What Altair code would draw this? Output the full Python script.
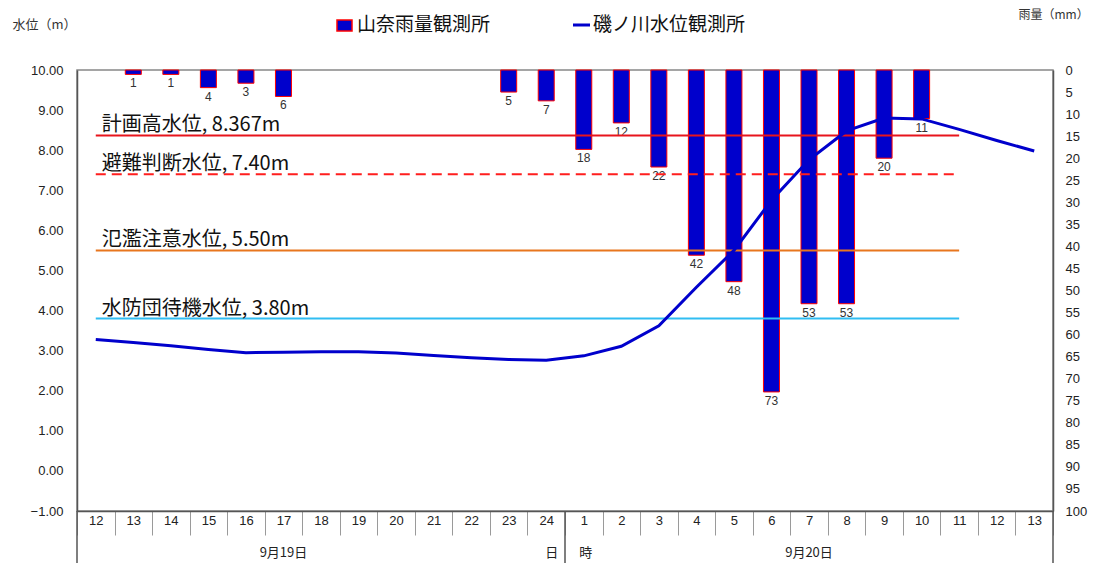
import altair as alt
import pandas as pd

# ---------------- data ----------------
hours = [12, 13, 14, 15, 16, 17, 18, 19, 20, 21, 22, 23, 24,
         1, 2, 3, 4, 5, 6, 7, 8, 9, 10, 11, 12, 13]
rain_mm = [None, 1, 1, 4, 3, 6, None, None, None, None, None, 5, 7,
           18, 12, 22, 42, 48, 73, 53, 53, 20, 11, None, None, None]
level_m = [3.28, 3.20, 3.12, 3.03, 2.95, 2.96, 2.97, 2.97, 2.94, 2.88, 2.82, 2.78, 2.76,
           2.87, 3.11, 3.62, 4.58, 5.50, 6.75, 7.76, 8.48, 8.80, 8.78, 8.52, 8.24, 7.98]

threshold_names = ["計画高水位, 8.367m", "避難判断水位, 7.40m", "氾濫注意水位, 5.50m", "水防団待機水位, 3.80m"]
threshold_values = [8.367, 7.40, 5.50, 3.80]
threshold_colors = ["#E8141C", "#FF1E1E", "#E8761E", "#30BDF2"]
threshold_dashed = [False, True, False, False]

day_labels = ["9月19日", "日", "時", "9月20日"]
day_label_at = [5.5, 12.65, 13.55, 19.5]   # positions along the hour axis
divider_at = [0, 13, 26]                    # day boundaries (hour-axis units)

series_names = ["山奈雨量観測所", "磯ノ川水位観測所"]

# ---------------- styling ----------------
W, H = 976, 441
CJK = "Noto Sans CJK JP"
NUM = "Liberation Sans"
BLUE = "#0000CC"

n = len(hours)
pos = [i + 0.5 for i in range(n)]
df = pd.DataFrame({"pos": pos, "hour": hours, "rain": rain_mm, "level": level_m})
rain_df = df.dropna(subset=["rain"]).copy()

js_hours = "[" + ",".join("'%d'" % h for h in hours) + "]"
xs = alt.Scale(domain=[0, n], nice=False, zero=False, padding=0)
x_axis = alt.Axis(
    values=list(range(n + 1)),
    labelExpr=f"datum.value < {n} ? {js_hours}[datum.value] : ''",
    labelOffset=W / n / 2,
    tickSize=24, tickColor="#9a9a9a", tickWidth=1,
    labelPadding=-21, labelFont=NUM, labelFontSize=13, labelColor="#222",
    labelAngle=0, labelFlush=False, labelOverlap=False,
    domainColor="#555", domainWidth=1.5, grid=False,
)


def X(field):
    return alt.X(f"{field}:Q", scale=xs, axis=x_axis, title=None)


# left (water level) axis
ys_left = alt.Scale(domain=[-1, 10], nice=False, zero=False)
y_axis_left = alt.Axis(
    orient="left", values=list(range(-1, 11)), format=".2f", ticks=False,
    labelPadding=14, labelFont=NUM, labelFontSize=13, labelColor="#222",
    domainColor="#555", domainWidth=1.5, grid=False,
    title="水位（m）", titleAngle=0, titleX=-65, titleY=-46, titleAlign="left",
    titleBaseline="middle", titleFont=CJK, titleFontSize=13, titleFontWeight="normal",
    titleColor="#333",
)
# right (rainfall) axis
ys_right = alt.Scale(domain=[0, 100], reverse=True, nice=False, zero=True)
y_axis_right = alt.Axis(
    orient="right", values=list(range(0, 101, 5)), ticks=False,
    labelPadding=12, labelFont=NUM, labelFontSize=13, labelColor="#222",
    domainColor="#555", domainWidth=1.5, grid=False,
    title="雨量（mm）", titleAngle=0, titleX=-35, titleY=-56, titleAlign="left",
    titleBaseline="middle", titleFont=CJK, titleFontSize=12, titleFontWeight="normal",
    titleColor="#333",
)

# ---------------- rainfall group ----------------
bars = alt.Chart(rain_df).mark_bar(size=16, color=BLUE, stroke="#FF0000", strokeWidth=1).encode(
    x=X("pos"),
    y=alt.Y("rain:Q", scale=ys_right, axis=y_axis_right),
)
bar_text = alt.Chart(rain_df).mark_text(
    baseline="top", dy=4, font=NUM, fontSize=12, color="#333"
).encode(
    x=X("pos"),
    y=alt.Y("rain:Q", scale=ys_right, axis=y_axis_right),
    text=alt.Text("rain:Q", format="d"),
)
rain_group = alt.layer(bars, bar_text)

# ---------------- water level group ----------------
thr_df = pd.DataFrame({
    "name": threshold_names,
    "value": threshold_values,
    "x0": [pos[0]] * len(threshold_values),
    "x1": [pos[23]] * len(threshold_values),
})
rule_layers = []
for i, (val, col, dashed) in enumerate(zip(threshold_values, threshold_colors, threshold_dashed)):
    kw = dict(color=col, strokeWidth=2)
    if dashed:
        kw["strokeDash"] = [10, 6]
    rule_layers.append(
        alt.Chart(thr_df.iloc[[i]]).mark_rule(**kw).encode(
            x=X("x0"), x2="x1",
            y=alt.Y("value:Q", scale=ys_left, axis=y_axis_left),
        )
    )
thr_text = alt.Chart(thr_df).mark_text(
    align="left", baseline="alphabetic", dx=6, dy=-4, font=CJK, fontSize=20, color="#111"
).encode(
    x=X("x0"),
    y=alt.Y("value:Q", scale=ys_left, axis=y_axis_left),
    text="name:N",
)
line = alt.Chart(df).mark_line(color=BLUE, strokeWidth=3).encode(
    x=X("pos"),
    y=alt.Y("level:Q", scale=ys_left, axis=y_axis_left),
)
level_group = alt.layer(*rule_layers, thr_text, line)

# ---------------- bottom annotations ----------------
day_df = pd.DataFrame({"label": day_labels, "at": day_label_at})
day_text = alt.Chart(day_df).mark_text(
    baseline="middle", font=CJK, fontSize=13, color="#222"
).encode(
    x=X("at"), y=alt.value(H + 42), text="label:N",
)
div_df = pd.DataFrame({"at": divider_at})
dividers = alt.Chart(div_df).mark_rule(color="#555", strokeWidth=1.5).encode(
    x=X("at"), y=alt.value(H), y2=alt.value(H + 52),
)

# ---------------- legend ----------------
leg_df = pd.DataFrame({"name": series_names})
leg_rect = alt.Chart(leg_df.iloc[[0]]).mark_rect(
    color=BLUE, stroke="#FF0000", strokeWidth=1.5
).encode(x=alt.value(260), x2=alt.value(275), y=alt.value(-50), y2=alt.value(-39))
leg_line = alt.Chart(leg_df.iloc[[1]]).mark_rule(color=BLUE, strokeWidth=3).encode(
    x=alt.value(496), x2=alt.value(513), y=alt.value(-45)
)
leg_text1 = alt.Chart(leg_df.iloc[[0]]).mark_text(
    align="left", baseline="middle", font=CJK, fontSize=19, color="#111"
).encode(x=alt.value(280), y=alt.value(-45), text="name:N")
leg_text2 = alt.Chart(leg_df.iloc[[1]]).mark_text(
    align="left", baseline="middle", font=CJK, fontSize=19, color="#111"
).encode(x=alt.value(516), y=alt.value(-45), text="name:N")

chart = alt.layer(
    rain_group, level_group, day_text, dividers,
    leg_rect, leg_line, leg_text1, leg_text2,
).resolve_scale(y="independent").properties(
    width=W, height=H,
    autosize=alt.AutoSizeParams(type="none"),
    padding={"left": 77, "top": 70, "right": 42, "bottom": 52},
    background="white",
).configure_view(stroke="#888", strokeWidth=1.5)

chart.save("out.html", embed_options={"renderer": "svg", "actions": False})
